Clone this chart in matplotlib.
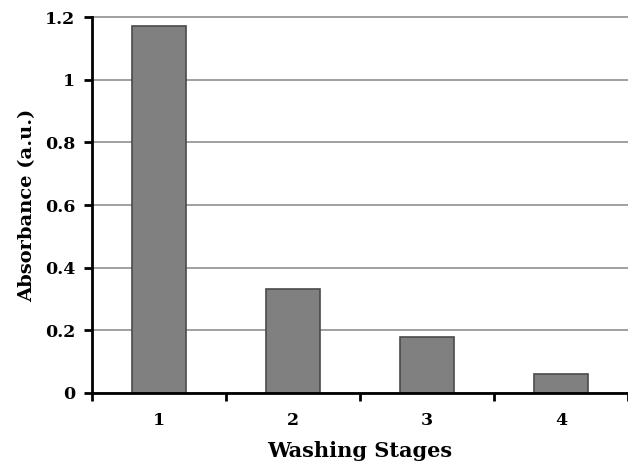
import matplotlib
matplotlib.use("Agg")
import matplotlib.pyplot as plt
import numpy as np

stages = ["1", "2", "3", "4"]
absorbance = [1.171, 0.332, 0.179, 0.061]
y_ticks = [0, 0.2, 0.4, 0.6, 0.8, 1.0, 1.2]
y_tick_labels = ["0", "0.2", "0.4", "0.6", "0.8", "1", "1.2"]

plt.rcParams["font.family"] = ["DejaVu Serif"]
plt.rcParams["font.weight"] = "bold"

fig = plt.figure(figsize=(6.28, 4.67), dpi=100)
ax = fig.add_axes([0.1465, 0.1585, 0.8535, 0.805])

x = np.arange(len(stages))
ax.set_axisbelow(True)
ax.yaxis.grid(True, color="#a0a0a0", linewidth=1.4)
for gl in ax.get_ygridlines():
    gl.set_clip_on(False)
ax.bar(x, absorbance, width=0.4, color="#808080", edgecolor="#4a4a4a", linewidth=1.2, zorder=3)

ax.set_xlim(-0.5, len(stages) - 0.5)
ax.set_ylim(0, 1.2)
ax.set_yticks(y_ticks)
ax.set_yticklabels(y_tick_labels, fontsize=12.5, fontweight="bold")
ax.set_xticks(x)
ax.set_xticklabels(stages, fontsize=12.5, fontweight="bold")
ax.set_xticks(np.arange(len(stages) + 1) - 0.5, minor=True)
ax.tick_params(axis="x", which="major", length=0, pad=14)
ax.tick_params(axis="x", which="minor", length=6, width=2, direction="out")
ax.tick_params(axis="y", length=6, width=2, direction="out", pad=6)
for gl in ax.get_ygridlines():
    gl.set_clip_on(False)

for side in ["top", "right"]:
    ax.spines[side].set_visible(False)
for side in ["left", "bottom"]:
    ax.spines[side].set_linewidth(2)
    ax.spines[side].set_zorder(4)

ax.set_xlabel("Washing Stages", fontsize=15, fontweight="bold", labelpad=8)
ax.set_ylabel("Absorbance (a.u.)", fontsize=14, fontweight="bold", labelpad=6)

fig.savefig("out.png", dpi=100)
